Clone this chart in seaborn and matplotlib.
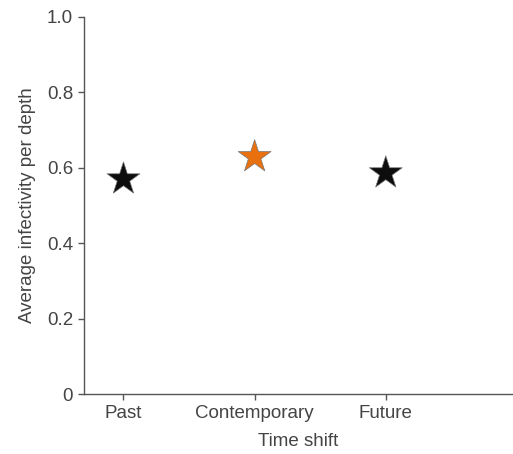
import matplotlib
matplotlib.use("Agg")
import matplotlib.pyplot as plt
import seaborn as sns
import pandas as pd

periods = ["Past", "Contemporary", "Future"]
infectivity = [0.570, 0.629, 0.586]
star_colors = ["#0d0d0d", "#e8700e", "#0d0d0d"]
y_ticks = [0, 0.2, 0.4, 0.6, 0.8, 1.0]
y_tick_labels = ["0", "0.2", "0.4", "0.6", "0.8", "1.0"]

sns.set_style("ticks")
plt.rcParams["font.family"] = ["Liberation Sans", "DejaVu Sans"]

df = pd.DataFrame({"period": periods, "infectivity": infectivity})

fig = plt.figure(figsize=(5.13, 4.54), dpi=100)
ax = fig.add_axes([0.164, 0.132, 0.836, 0.8306])

sns.scatterplot(data=df, x="period", y="infectivity", hue="period",
                palette=star_colors, marker="*", s=620, linewidth=0.5,
                edgecolor="#777777", legend=False, ax=ax, zorder=3)

ax.set_xlim(-0.3, 2.97)
ax.set_ylim(0, 1.0)
ax.set_yticks(y_ticks)
ax.set_yticklabels(y_tick_labels)
ax.set_xlabel("Time shift", fontsize=13.5, color="#444444", labelpad=8)
ax.set_ylabel("Average infectivity per depth", fontsize=13.5, color="#444444", labelpad=8)

sns.despine(ax=ax)
for side in ["left", "bottom"]:
    ax.spines[side].set_color("#555555")
    ax.spines[side].set_linewidth(1.0)
ax.tick_params(axis="both", colors="#555555", labelcolor="#444444",
               labelsize=13.5, length=4, width=1.0, direction="out", pad=4)

fig.savefig("out.png", dpi=100)
